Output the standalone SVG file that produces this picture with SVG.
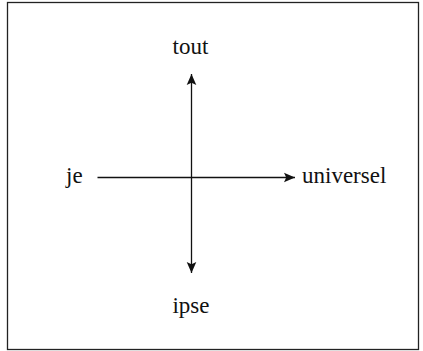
<svg xmlns="http://www.w3.org/2000/svg" width="423" height="351" viewBox="0 0 423 351">
<style>
.lbl{font-family:"Liberation Serif","Times New Roman",serif;font-size:23px;fill:#111}
.conn{stroke:#111;stroke-width:1.3;fill:none}
</style>
<defs>
<marker id="ah" markerUnits="userSpaceOnUse" markerWidth="13" markerHeight="12" refX="11" refY="6" orient="auto">
<path d="M0,1.2 L11,6 L0,10.8 L2.2,6 Z" fill="#111"/>
</marker>
</defs>
<rect x="7.5" y="2.5" width="411" height="347" fill="#fff" stroke="#222" stroke-width="1.3"/>
<g id="connectors">
<line class="conn" x1="191.5" y1="178" x2="191.5" y2="74" marker-end="url(#ah)"/>
<line class="conn" x1="191.5" y1="178" x2="191.5" y2="273" marker-end="url(#ah)"/>
<line class="conn" x1="97.5" y1="177.5" x2="295" y2="177.5" marker-end="url(#ah)"/>
</g>
<g id="tout"><text class="lbl" x="190.5" y="54" text-anchor="middle">tout</text></g>
<g id="je"><text class="lbl" x="66" y="183">je</text></g>
<g id="universel"><text class="lbl" x="302" y="183">universel</text></g>
<g id="ipse"><text class="lbl" x="191" y="313" text-anchor="middle">ipse</text></g>
</svg>
